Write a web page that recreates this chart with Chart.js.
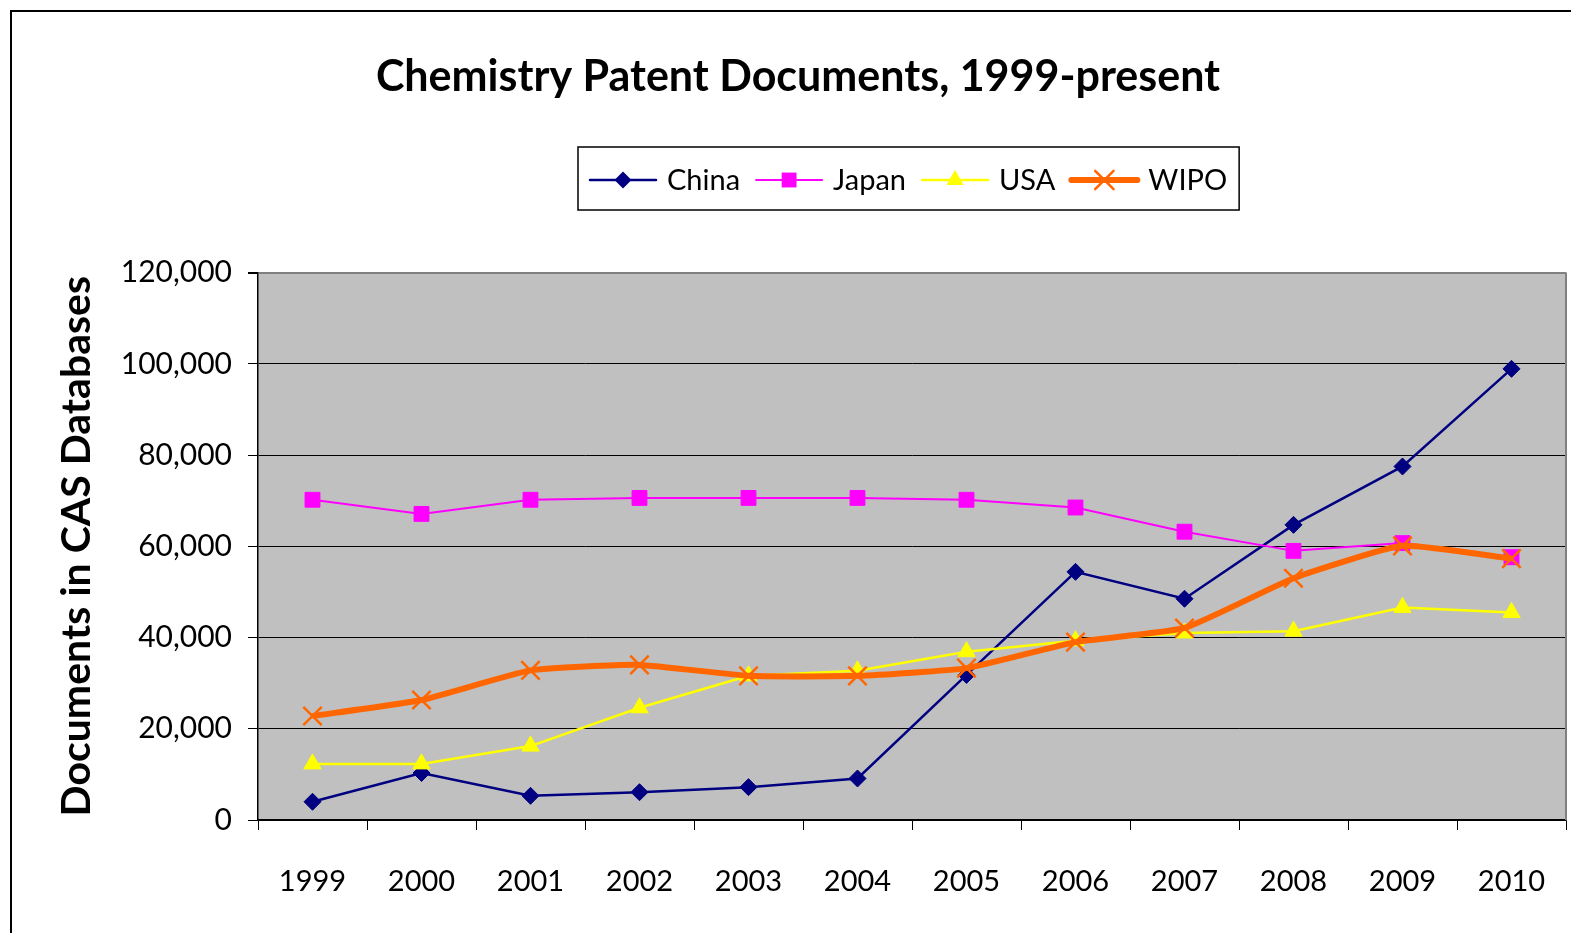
<!DOCTYPE html>
<html>
<head>
<meta charset="utf-8">
<script src="https://cdn.jsdelivr.net/npm/chart.js@4.4.1/dist/chart.umd.min.js"></script>
<style>
  html, body { margin: 0; padding: 0; background: #fff; }
  #wrap { width: 1571px; height: 933px; }
</style>
</head>
<body>
<div id="wrap"><canvas id="myChart" width="1571" height="933"></canvas></div>
<script>
var years = ["1999", "2000", "2001", "2002", "2003", "2004", "2005", "2006", "2007", "2008", "2009", "2010"];
var china = [4000, 10300, 5300, 6100, 7200, 9100, 31800, 54400, 48500, 64700, 77500, 98900];
var japan = [70200, 67100, 70200, 70600, 70600, 70600, 70200, 68500, 63200, 59000, 60700, 57600];
var usa = [12300, 12300, 16200, 24600, 31600, 32700, 36900, 39300, 41000, 41400, 46600, 45500];
var wipo = [22800, 26300, 32800, 34000, 31600, 31600, 33300, 39000, 42100, 53000, 60100, 57300];
var yTickLabels = ["0", "20,000", "40,000", "60,000", "80,000", "100,000", "120,000"];

var font = "Lato";

// gray plot area + right edge
var plotBg = {
    id: "plotBg",
    beforeDraw: function (chart) {
        var a = chart.chartArea, c = chart.ctx;
        c.save();
        c.fillStyle = "#C0C0C0";
        c.fillRect(a.left, a.top, a.right - a.left, a.bottom - a.top);
        c.restore();
    },
    afterDatasetsDraw: function (chart) {
        var a = chart.chartArea, c = chart.ctx;
        c.save();
        c.strokeStyle = "#808080";
        c.lineWidth = 2;
        c.beginPath();
        c.moveTo(a.right, a.top);
        c.lineTo(a.right, a.bottom);
        c.stroke();
        c.restore();
    }
};

// outer frame, only left and top edges are visible
var frame = {
    id: "frame",
    afterDraw: function (chart) {
        var c = chart.ctx;
        c.save();
        c.strokeStyle = "#000";
        c.lineWidth = 2;
        c.beginPath();
        c.moveTo(11, chart.height);
        c.lineTo(11, 11);
        c.lineTo(chart.width, 11);
        c.stroke();
        c.restore();
    }
};

function marker(c, style, x, y, r) {
    c.beginPath();
    if (style === "rectRot") {
        c.moveTo(x, y - r); c.lineTo(x + r, y); c.lineTo(x, y + r); c.lineTo(x - r, y); c.closePath(); c.fill();
    } else if (style === "rect") {
        var s = r * Math.SQRT1_2;
        c.fillRect(x - s, y - s, 2 * s, 2 * s);
    } else if (style === "triangle") {
        c.moveTo(x, y - r); c.lineTo(x + r * 0.866, y + r / 2); c.lineTo(x - r * 0.866, y + r / 2); c.closePath(); c.fill();
    } else if (style === "crossRot") {
        var d = r * Math.SQRT1_2;
        c.moveTo(x - d, y - d); c.lineTo(x + d, y + d);
        c.moveTo(x + d, y - d); c.lineTo(x - d, y + d);
        c.stroke();
    }
}

// boxed legend with line + marker samples
var boxLegend = {
    id: "boxLegend",
    afterDraw: function (chart) {
        var c = chart.ctx;
        var x = 590, y = 180;
        c.save();
        c.font = "29px " + font;
        c.textBaseline = "middle";
        var sets = chart.data.datasets;
        for (var i = 0; i < sets.length; i++) {
            var ds = sets[i];
            c.strokeStyle = ds.borderColor;
            c.lineWidth = ds.borderWidth;
            c.lineCap = "round";
            c.beginPath();
            c.moveTo(x, y);
            c.lineTo(x + 66, y);
            c.stroke();
            c.fillStyle = ds.pointBackgroundColor;
            c.strokeStyle = ds.pointBorderColor;
            c.lineWidth = ds.pointBorderWidth;
            marker(c, ds.pointStyle, x + 33, y, ds.pointRadius);
            c.fillStyle = "#000";
            c.fillText(ds.label, x + 77, y + 1);
            x += 77 + c.measureText(ds.label).width + 16;
        }
        var right = x - 16 + 12;
        c.strokeStyle = "#000";
        c.lineWidth = 1.5;
        c.strokeRect(578, 147, right - 578, 63);
        c.restore();
    }
};

var ctx = document.getElementById("myChart").getContext("2d");
var myChart = new Chart(ctx, {
    type: "line",
    data: {
        labels: years,
        datasets: [{
            label: "China",
            data: china,
            borderColor: "#000080",
            borderWidth: 2.5,
            pointStyle: "rectRot",
            pointRadius: 8.5,
            pointBackgroundColor: "#000080",
            pointBorderColor: "#000080",
            pointBorderWidth: 1,
            tension: 0,
            order: 4
        }, {
            label: "Japan",
            data: japan,
            borderColor: "#FF00FF",
            borderWidth: 2,
            pointStyle: "rect",
            pointRadius: 10.5,
            pointBackgroundColor: "#FF00FF",
            pointBorderColor: "#FF00FF",
            pointBorderWidth: 1,
            tension: 0,
            order: 3
        }, {
            label: "USA",
            data: usa,
            borderColor: "#FFFF00",
            borderWidth: 2.5,
            pointStyle: "triangle",
            pointRadius: 10,
            pointBackgroundColor: "#FFFF00",
            pointBorderColor: "#FFFF00",
            pointBorderWidth: 1,
            tension: 0,
            order: 2
        }, {
            label: "WIPO",
            data: wipo,
            borderColor: "#FF6600",
            borderWidth: 6,
            pointStyle: "crossRot",
            pointRadius: 13,
            pointBackgroundColor: "#FF6600",
            pointBorderColor: "#FF6600",
            pointBorderWidth: 2.5,
            tension: 0.15,
            order: 1
        }]
    },
    options: {
        responsive: false,
        animation: false,
        layout: { autoPadding: false, padding: { left: 30, right: 5, top: 0, bottom: 0 } },
        plugins: {
            legend: { display: false },
            tooltip: { enabled: false },
            title: {
                display: true,
                text: "Chemistry Patent Documents, 1999-present",
                color: "#000",
                font: { family: font, size: 43, weight: "bold", lineHeight: 1.2 },
                padding: { top: 51, bottom: 170 }
            }
        },
        scales: {
            x: {
                offset: true,
                grid: { offset: true, drawOnChartArea: false, drawTicks: true, tickLength: 10, color: "#000", tickColor: "#000", lineWidth: 1 },
                border: { color: "#000", width: 1.5 },
                ticks: { color: "#000", font: { family: font, size: 29, lineHeight: 3.4 }, padding: 2, maxRotation: 0, autoSkip: false },
                afterFit: function (s) {
                    s.height = 113;
                    s.paddingLeft = 0;
                    s.paddingRight = 0;
                }
            },
            y: {
                min: 0,
                max: 120000,
                grid: {
                    color: function (c) { return c.tick && c.tick.value === 120000 ? "#808080" : "#000"; },
                    lineWidth: function (c) { return c.tick && c.tick.value === 120000 ? 2 : 1; },
                    tickColor: "#000",
                    tickLength: 10
                },
                border: { color: "#000", width: 1.5 },
                ticks: {
                    stepSize: 20000,
                    color: "#000",
                    font: { family: font, size: 30 },
                    padding: 16,
                    callback: function (v, i) { return yTickLabels[i]; }
                },
                title: {
                    display: true,
                    text: "Documents in CAS Databases",
                    color: "#000",
                    font: { family: font, size: 41, weight: "bold", lineHeight: 1.2 },
                    padding: { top: 22, bottom: 0 }
                },
                afterFit: function (s) { s.width = 228; }
            }
        }
    },
    plugins: [plotBg, boxLegend, frame]
});
</script>
</body>
</html>
